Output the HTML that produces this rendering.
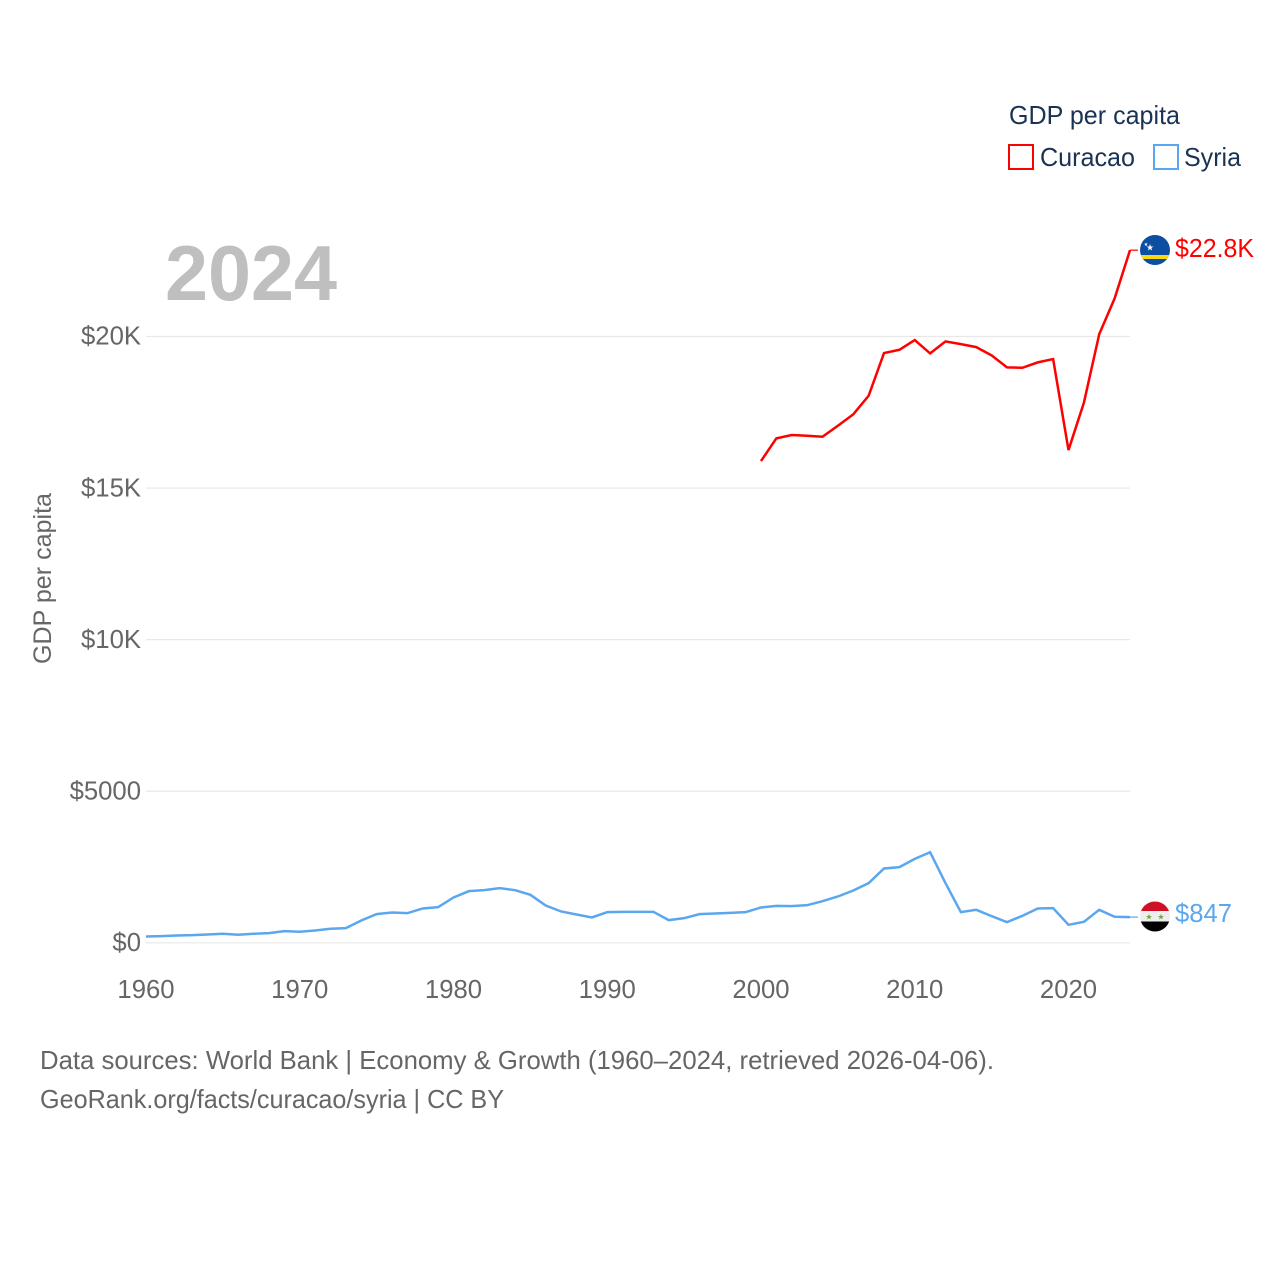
<!DOCTYPE html>
<html lang="en">
<head>
<meta charset="utf-8">
<title>GDP per capita: Curacao and Syria</title>
<style>
  html, body { margin: 0; padding: 0; background: #fff; }
  svg { display: block; font-family: "Liberation Sans", sans-serif; }
</style>
</head>
<body>
<svg id="chart" xmlns="http://www.w3.org/2000/svg" width="1280" height="1280" viewBox="0 0 1280 1280">
  <rect x="0" y="0" width="1280" height="1280" fill="#ffffff"/>
  <g id="grid"></g>
  <g id="y-ticks"></g>
  <g id="x-ticks"></g>
  <text x="165" y="300" font-size="78" font-weight="700" fill="#bfbfbf" textLength="172" lengthAdjust="spacingAndGlyphs">2024</text>
  <text transform="translate(51,664) rotate(-90)" font-size="25" fill="#666666" textLength="171" lengthAdjust="spacingAndGlyphs">GDP per capita</text>
  <g id="series"></g>

  <g>
    <text x="1009" y="124" font-size="26" fill="#1a3354" textLength="171" lengthAdjust="spacingAndGlyphs">GDP per capita</text>
    <g>
      <rect x="1009" y="145" width="24" height="24" fill="#ffffff" stroke="#ff0000" stroke-width="2"/>
      <text x="1040" y="166" font-size="26" fill="#1a3354" textLength="95" lengthAdjust="spacingAndGlyphs">Curacao</text>
    </g>
    <g>
      <rect x="1154" y="145" width="24" height="24" fill="#ffffff" stroke="#5ba7ef" stroke-width="2"/>
      <text x="1184" y="166" font-size="26" fill="#1a3354" textLength="57" lengthAdjust="spacingAndGlyphs">Syria</text>
    </g>
  </g>

  <defs>
    <clipPath id="clip-curacao"><circle cx="1155" cy="250" r="15"/></clipPath>
    <clipPath id="clip-syria"><circle cx="1155" cy="916.5" r="15"/></clipPath>
  </defs>
  <g clip-path="url(#clip-curacao)">
    <rect x="1140" y="235" width="30" height="30" fill="#0b4ea2"/>
    <rect x="1140" y="255" width="30" height="4" fill="#f9d90f"/>
    <text x="1150" y="250.5" font-size="9" fill="#ffffff" text-anchor="middle">★</text>
    <text x="1146" y="246" font-size="5" fill="#ffffff" text-anchor="middle">★</text>
  </g>
  <g clip-path="url(#clip-syria)">
    <rect x="1140" y="901" width="30" height="11" fill="#ce1126"/>
    <rect x="1140" y="911" width="30" height="11" fill="#eeeeee"/>
    <rect x="1140" y="921.5" width="30" height="11" fill="#000000"/>
    <text x="1149" y="919.5" font-size="8" fill="#6da544" text-anchor="middle">★</text>
    <text x="1161" y="919.5" font-size="8" fill="#6da544" text-anchor="middle">★</text>
  </g>
  <text x="1175" y="257" font-size="25.7" fill="#ff0000" textLength="79" lengthAdjust="spacingAndGlyphs">$22.8K</text>
  <text x="1175" y="922" font-size="25.7" fill="#5ba7ef" textLength="57" lengthAdjust="spacingAndGlyphs">$847</text>

  <text x="40" y="1069" font-size="26" fill="#666666" textLength="954" lengthAdjust="spacingAndGlyphs">Data sources: World Bank | Economy &amp; Growth (1960–2024, retrieved 2026-04-06).</text>
  <text x="40" y="1108" font-size="26" fill="#666666" textLength="464" lengthAdjust="spacingAndGlyphs">GeoRank.org/facts/curacao/syria | CC BY</text>
</svg>
<script>
const years = [1960,1961,1962,1963,1964,1965,1966,1967,1968,1969,1970,1971,1972,1973,1974,1975,1976,1977,1978,1979,1980,1981,1982,1983,1984,1985,1986,1987,1988,1989,1990,1991,1992,1993,1994,1995,1996,1997,1998,1999,2000,2001,2002,2003,2004,2005,2006,2007,2008,2009,2010,2011,2012,2013,2014,2015,2016,2017,2018,2019,2020,2021,2022,2023,2024];
const syriaValues = [209,220,242,253,275,297,264,297,319,385,363,407,462,484,736,945,1000,978,1132,1176,1495,1703,1736,1802,1736,1583,1231,1033,934,835,1011,1022,1022,1022,747,813,945,967,989,1011,1165,1220,1209,1242,1374,1528,1725,1967,2451,2495,2769,2989,1967,1011,1088,879,681,890,1132,1143,593,692,1088,860,847];
const curacaoYears = [2000,2001,2002,2003,2004,2005,2006,2007,2008,2009,2010,2011,2012,2013,2014,2015,2016,2017,2018,2019,2020,2021,2022,2023,2024];
const curacaoValues = [15892,16640,16749,16726,16693,17056,17432,18045,19453,19562,19881,19443,19838,19749,19650,19377,18981,18968,19146,19255,16254,17814,20079,21256,22848];
const yTickValues = [0,5000,10000,15000,20000];
const yTickLabels = ["$0","$5000","$10K","$15K","$20K"];
const xTickValues = [1960,1970,1980,1990,2000,2010,2020];

const SVG_NS = "http://www.w3.org/2000/svg";
function xScale(year) { return 146 + (year - 1960) * (1130 - 146) / 64; }
function yScale(value) { return 942.8 - value * (942.8 - 336.5) / 20000; }
function make(tag, attrs, parent) {
  const el = document.createElementNS(SVG_NS, tag);
  for (const k in attrs) el.setAttribute(k, attrs[k]);
  parent.appendChild(el);
  return el;
}

const grid = document.getElementById("grid");
const yTicks = document.getElementById("y-ticks");
const xTicks = document.getElementById("x-ticks");
const series = document.getElementById("series");

yTickValues.forEach(function (v, i) {
  const line = make("line", { x1: 146, x2: 1130, y1: yScale(v), y2: yScale(v), stroke: "#e8e8e8", "stroke-width": 1.2 }, grid);
  
  
  const label = make("text", { x: 141, y: yScale(v) + 8.2, "text-anchor": "end", "font-size": 25.7, fill: "#666666" }, yTicks);
  label.textContent = yTickLabels[i];
  
  
});

xTickValues.forEach(function (year) {
  const label = make("text", { x: xScale(year), y: 998, "text-anchor": "middle", "font-size": 25.7, fill: "#666666" }, xTicks);
  label.textContent = String(year);
  
  
});

function pathFor(xs, ys) {
  return xs.map(function (year, i) {
    return (i ? "L" : "M") + xScale(year).toFixed(2) + " " + yScale(ys[i]).toFixed(2);
  }).join(" ");
}

const syriaLine = make("path", { d: pathFor(years, syriaValues), fill: "none", stroke: "#5ba7ef", "stroke-width": 2.5, "stroke-linejoin": "miter" }, series);



const curacaoLine = make("path", { d: pathFor(curacaoYears, curacaoValues), fill: "none", stroke: "#ff0000", "stroke-width": 2.5, "stroke-linejoin": "miter" }, series);



const lastYear = years[years.length - 1];
const syriaConnector = make("line", { x1: xScale(lastYear), x2: 1138, y1: yScale(syriaValues[syriaValues.length - 1]), y2: yScale(syriaValues[syriaValues.length - 1]), stroke: "#5ba7ef", "stroke-width": 1.2 }, series);



const curacaoConnector = make("line", { x1: xScale(lastYear), x2: 1138, y1: yScale(curacaoValues[curacaoValues.length - 1]), y2: yScale(curacaoValues[curacaoValues.length - 1]), stroke: "#ff0000", "stroke-width": 1.2 }, series);


</script>
</body>
</html>
